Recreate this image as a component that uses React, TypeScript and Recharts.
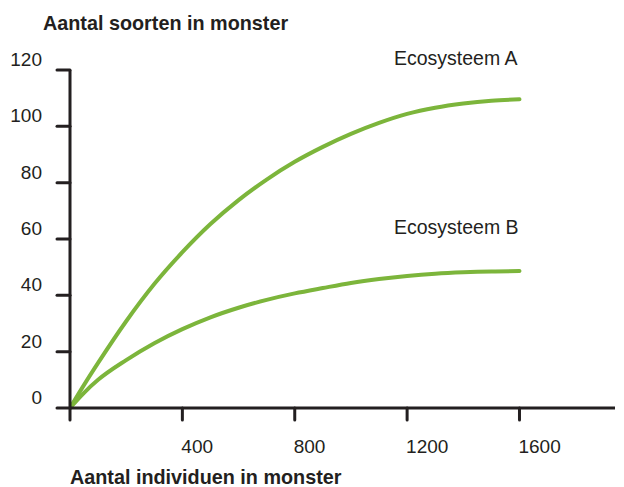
import React from "react";
import { LineChart, Line, XAxis, YAxis } from "recharts";

const xValues = [0, 50, 100, 200, 300, 400, 500, 600, 700, 800, 900, 1000, 1100, 1200, 1300, 1400, 1500, 1600];
const seriesA = [0, 8.2, 16, 30.8, 44, 55.3, 65.3, 73.8, 81.1, 87.4, 92.7, 97.3, 101.2, 104.4, 106.6, 108.1, 109.1, 109.6];
const seriesB = [0, 5.4, 10, 17, 23, 28, 32.2, 35.6, 38.4, 40.7, 42.6, 44.4, 45.8, 46.9, 47.7, 48.2, 48.5, 48.6];
const xTicks = [0, 400, 800, 1200, 1600];
const yTicks = [0, 20, 40, 60, 80, 100, 120];
const nameA = "Ecosysteem A";
const nameB = "Ecosysteem B";
const yTitle = "Aantal soorten in monster";
const xTitle = "Aantal individuen in monster";

const data = xValues.map((x, i) => ({ x, a: seriesA[i], b: seriesB[i] }));

const INK = "#231f20";
const GREEN = "#7cb53b";
const FONT = "'Liberation Sans', Arial, Helvetica, sans-serif";

const XTick = (props: any) => {
  const { x, y, payload } = props;
  if (payload.value === 0) return null;
  return (
    <text x={x - 1} y={y + 33} textAnchor="start" fontFamily={FONT} fontSize={19} fill={INK}>
      {payload.value}
    </text>
  );
};

const YTick = (props: any) => {
  const { x, y, payload } = props;
  return (
    <text x={x - 15} y={y - 4} textAnchor="end" fontFamily={FONT} fontSize={19} fill={INK}>
      {payload.value}
    </text>
  );
};

export default function App() {
  const tickLine = { stroke: INK, strokeWidth: 3, strokeLinecap: "round" as const };
  const axisLine = { stroke: INK, strokeWidth: 3 };
  return (
    <div style={{ position: "absolute", left: 0, top: 0, width: 624, height: 487, background: "#fff" }}>
      <LineChart width={624} height={487} data={data} margin={{ top: 70, right: 9, bottom: 0, left: 0 }}>
        <XAxis
          type="number"
          dataKey="x"
          domain={[0, 1940]}
          ticks={xTicks}
          tickSize={12}
          tickMargin={0}
          height={79}
          axisLine={axisLine}
          tickLine={tickLine}
          tick={<XTick />}
          allowDataOverflow
        />
        <YAxis
          type="number"
          domain={[0, 120]}
          ticks={yTicks}
          tickSize={13}
          tickMargin={0}
          width={70}
          axisLine={axisLine}
          tickLine={tickLine}
          tick={<YTick />}
        />
        <Line dataKey="a" name={nameA} type="monotone" stroke={GREEN} strokeWidth={4} strokeLinecap="round" dot={false} isAnimationActive={false} />
        <Line dataKey="b" name={nameB} type="monotone" stroke={GREEN} strokeWidth={4} strokeLinecap="round" dot={false} isAnimationActive={false} />
      </LineChart>
      <svg width={624} height={487} style={{ position: "absolute", left: 0, top: 0, pointerEvents: "none" }}>
        <text x={43} y={30} fontFamily={FONT} fontSize={19.8} fontWeight="bold" fill={INK}>{yTitle}</text>
        <text x={70} y={484} fontFamily={FONT} fontSize={19.8} fontWeight="bold" fill={INK}>{xTitle}</text>
        <text x={394} y={65} fontFamily={FONT} fontSize={19.5} fill={INK}>{nameA}</text>
        <text x={394} y={234} fontFamily={FONT} fontSize={19.5} fill={INK}>{nameB}</text>
      </svg>
    </div>
  );
}
